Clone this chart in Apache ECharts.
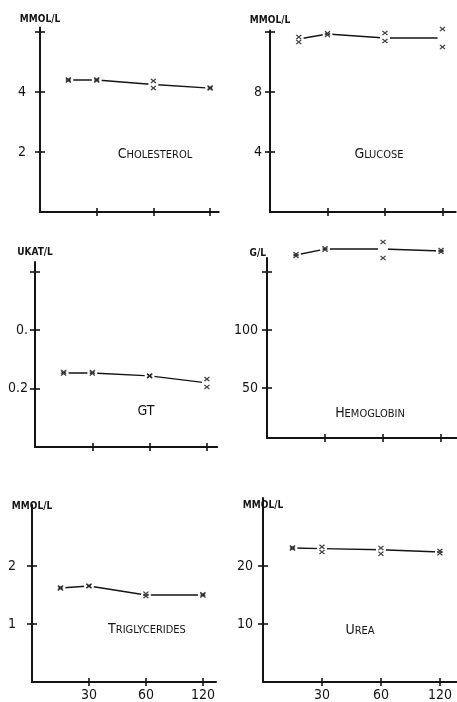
<!DOCTYPE html>
<html>
<head>
<meta charset="utf-8">
<script src="https://cdn.jsdelivr.net/npm/echarts@6/dist/echarts.min.js"></script>
<style>
html,body{margin:0;padding:0;background:#fff;}
#chart{width:457px;height:702px;}
</style>
</head>
<body>
<div id="chart"></div>
<script>
// ---- data ----
const timesMin = [15, 30, 60, 120];
const tickTimes = [30, 60, 120];

const cholesterolMean = [4.40, 4.40, 4.25, 4.13];
const cholesterolA    = [4.42, 4.42, 4.37, 4.15];
const cholesterolB    = [4.38, 4.38, 4.13, 4.12];
const cholesterolTicks = [2, 4, 6];
const cholesterolLabels = ['2', '4', ''];

const glucoseMean = [11.53, 11.87, 11.60, 11.60];
const glucoseA    = [11.67, 11.92, 11.93, 12.20];
const glucoseB    = [11.33, 11.80, 11.40, 11.00];
const glucoseTicks = [4, 8, 12];
const glucoseLabels = ['4', '8', ''];

const gtMean = [0.253, 0.253, 0.243, 0.219];
const gtA    = [0.256, 0.256, 0.244, 0.232];
const gtB    = [0.251, 0.251, 0.242, 0.205];
const gtTicks = [0.2, 0.4, 0.6];
const gtLabels = ['0.2', '0.', ''];

const hemoglobinMean = [164.8, 169.9, 169.9, 168.2];
const hemoglobinA    = [165.5, 170.5, 176.0, 169.0];
const hemoglobinB    = [164.0, 169.3, 162.2, 167.5];
const hemoglobinTicks = [50, 100, 150];
const hemoglobinLabels = ['50', '100', ''];

const triglyceridesMean = [1.62, 1.655, 1.50, 1.50];
const triglyceridesA    = [1.63, 1.66, 1.52, 1.51];
const triglyceridesB    = [1.61, 1.65, 1.48, 1.49];
const triglyceridesTicks = [1, 2];
const triglyceridesLabels = ['1', '2'];

const ureaMean = [23.1, 23.0, 22.8, 22.4];
const ureaA    = [23.2, 23.3, 23.1, 22.6];
const ureaB    = [23.0, 22.4, 22.1, 22.2];
const ureaTicks = [10, 20];
const ureaLabels = ['10', '20'];

const unitNames = ['MMOL/L', 'MMOL/L', 'UKAT/L', 'G/L', 'MMOL/L', 'MMOL/L'];
const titleBig = ['C', 'G', 'GT', 'H', 'T', 'U'];
const titleSmall = ['HOLESTEROL', 'LUCOSE', '', 'EMOGLOBIN', 'RIGLYCERIDES', 'REA'];

// ordinal time scale: 15 -> 0.5, 30 -> 1, 60 -> 2, 120 -> 3
function slot(t) { return t <= 30 ? t / 30 : 1 + Math.log2(t / 30); }

const panels = [
  {mean: cholesterolMean, a: cholesterolA, b: cholesterolB, ticks: cholesterolTicks, labels: cholesterolLabels,
   g: {left: 40, top: 27.5, width: 178.6, height: 184.5}, xmax: 3.15, ymin: 0, ymax: 6.15, xlab: false,
   nameGap: 3, nameAlign: 'center', namePad: [0, 0, 0, 0], labMargin: 14, title: [155, 154]},
  {mean: glucoseMean, a: glucoseA, b: glucoseB, ticks: glucoseTicks, labels: glucoseLabels,
   g: {left: 270, top: 30.5, width: 185.7, height: 181.5}, xmax: 3.23, ymin: 0, ymax: 12.1, xlab: false,
   nameGap: 5, nameAlign: 'center', namePad: [0, 0, 0, 0], labMargin: 8, title: [379, 154]},
  {mean: gtMean, a: gtA, b: gtB, ticks: gtTicks, labels: gtLabels,
   g: {left: 35, top: 262, width: 182.2, height: 185}, xmax: 3.18, ymin: 0, ymax: 0.632, xlab: false,
   nameGap: 5, nameAlign: 'center', namePad: [0, 0, 0, 0], labMargin: 7, title: [146, 411]},
  {mean: hemoglobinMean, a: hemoglobinA, b: hemoglobinB, ticks: hemoglobinTicks, labels: hemoglobinLabels,
   g: {left: 267, top: 258, width: 189.7, height: 180}, xmax: 3.27, ymin: 7, ymax: 162.2, xlab: false,
   nameGap: 0, nameAlign: 'right', namePad: [0, 1, 0, 0], labMargin: 9, title: [370, 413]},
  {mean: triglyceridesMean, a: triglyceridesA, b: triglyceridesB, ticks: triglyceridesTicks, labels: triglyceridesLabels,
   g: {left: 32, top: 505, width: 184, height: 177}, xmax: 3.23, ymin: 0, ymax: 3.05, xlab: true,
   nameGap: -6, nameAlign: 'center', namePad: [0, 0, 0, 0], labMargin: 16, title: [147, 629]},
  {mean: ureaMean, a: ureaA, b: ureaB, ticks: ureaTicks, labels: ureaLabels,
   g: {left: 263, top: 498, width: 194, height: 184}, xmax: 3.29, ymin: 0, ymax: 31.72, xlab: true,
   nameGap: -12, nameAlign: 'center', namePad: [0, 0, 0, 0], labMargin: 10, title: [360, 630]}
];

const FONT = '"DejaVu Sans Condensed", "DejaVu Sans", sans-serif';
const INK = '#141414';
const XMARK = 'path://M0,1.6L1.6,0L5,3.4L8.4,0L10,1.6L6.6,5L10,8.4L8.4,10L5,6.6L1.6,10L0,8.4L3.4,5Z';
const xSlots = timesMin.map(slot);
const xTickSlots = tickTimes.map(slot);

const grid = [], xAxis = [], yAxis = [], series = [], graphic = [];

panels.forEach((p, i) => {
  grid.push(Object.assign({outerBoundsMode: 'none', containLabel: false}, p.g));
  xAxis.push({
    type: 'value', gridIndex: i, position: 'bottom', offset: 0, min: 0, max: p.xmax,
    axisLine: {show: true, onZero: false, lineStyle: {color: INK, width: 2}},
    axisTick: {show: true, inside: false, length: 4, customValues: xTickSlots, lineStyle: {color: INK, width: 1.6}},
    axisLabel: {show: p.xlab, customValues: xTickSlots, margin: 6, color: INK, fontFamily: FONT, fontSize: 14,
      formatter: v => { const k = xTickSlots.findIndex(s => Math.abs(s - v) < 1e-6); return k >= 0 ? String(tickTimes[k]) : ''; }},
    splitLine: {show: false}
  });
  xAxis.push({
    type: 'value', gridIndex: i, position: 'bottom', offset: 0, min: 0, max: p.xmax,
    axisLine: {show: false, onZero: false},
    axisTick: {show: true, inside: true, length: 4, customValues: xTickSlots, lineStyle: {color: INK, width: 1.6}},
    axisLabel: {show: false}, splitLine: {show: false}
  });
  yAxis.push({
    type: 'value', gridIndex: i, position: 'left', offset: 0, min: p.ymin, max: p.ymax,
    name: unitNames[i], nameLocation: 'end', nameGap: p.nameGap,
    nameTextStyle: {color: INK, fontFamily: FONT, fontSize: 10, fontWeight: 'bold', align: p.nameAlign, padding: p.namePad},
    axisLine: {show: true, onZero: false, lineStyle: {color: INK, width: 2}},
    axisTick: {show: true, inside: false, length: 5, customValues: p.ticks, lineStyle: {color: INK, width: 1.6}},
    axisLabel: {show: true, customValues: p.ticks, margin: p.labMargin, color: INK, fontFamily: FONT, fontSize: 14,
      formatter: v => { const k = p.ticks.findIndex(s => Math.abs(s - v) < 1e-9); return k >= 0 ? p.labels[k] : ''; }},
    splitLine: {show: false}
  });
  yAxis.push({
    type: 'value', gridIndex: i, position: 'left', offset: 0, min: p.ymin, max: p.ymax,
    axisLine: {show: false, onZero: false},
    axisTick: {show: true, inside: true, length: 5, customValues: p.ticks, lineStyle: {color: INK, width: 1.6}},
    axisLabel: {show: false}, splitLine: {show: false}
  });
  const zip = arr => arr.map((v, k) => [xSlots[k], v]);
  series.push({
    type: 'line', xAxisIndex: 2 * i, yAxisIndex: 2 * i, data: zip(p.mean), clip: false,
    symbol: 'circle', symbolSize: 10, showSymbol: true, silent: true, animation: false,
    itemStyle: {color: '#fff', borderWidth: 0}, lineStyle: {color: INK, width: 1.4}, z: 2
  });
  [p.a, p.b].forEach(arr => series.push({
    type: 'scatter', xAxisIndex: 2 * i, yAxisIndex: 2 * i, data: zip(arr), clip: false,
    symbol: XMARK, symbolSize: [6, 5], itemStyle: {color: INK}, silent: true, animation: false, z: 3
  }));
  graphic.push({
    type: 'text', x: p.title[0], y: p.title[1], silent: true,
    style: {
      text: '{a|' + titleBig[i] + '}' + (titleSmall[i] ? '{b|' + titleSmall[i] + '}' : ''),
      align: 'center', verticalAlign: 'middle', fill: INK,
      rich: {
        a: {fontFamily: FONT, fontSize: 14, fill: INK, verticalAlign: 'bottom'},
        b: {fontFamily: FONT, fontSize: 11, fill: INK, verticalAlign: 'bottom'}
      }
    }
  });
});

const chart = echarts.init(document.getElementById('chart'), null, {renderer: 'canvas'});
chart.setOption({
  backgroundColor: '#fff',
  animation: false,
  grid, xAxis, yAxis, series, graphic
});
</script>
</body>
</html>
